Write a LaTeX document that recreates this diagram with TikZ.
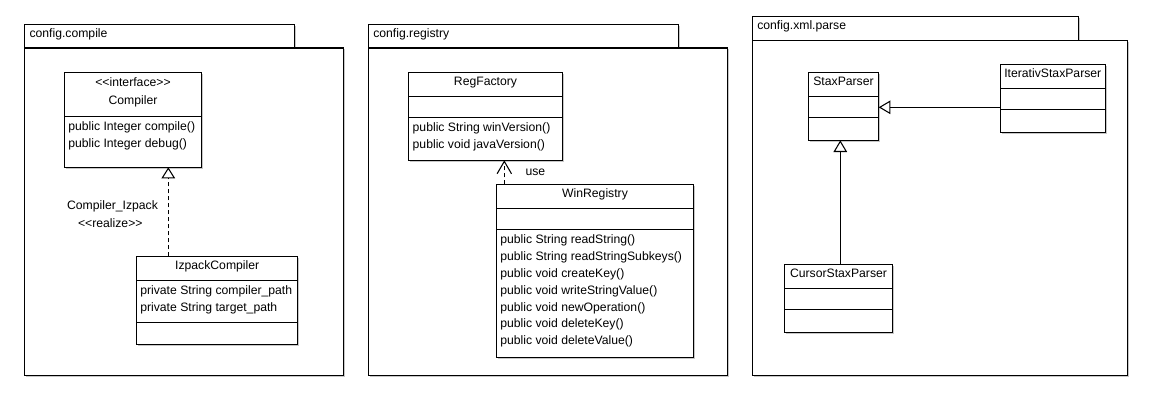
\documentclass[tikz,border=0pt]{standalone}
\usepackage{fontspec}
\setmainfont{Liberation Sans}
\usetikzlibrary{arrows.meta,fit,shadows}
\newcommand\fs{\fontsize{9.15}{11}\selectfont}
\newcommand\ltlt{<\kern0pt<}
\newcommand\gtgt{>\kern0pt>}
\tikzset{
  box/.style={draw, line width=0.8pt, fill=white, inner sep=0pt, outer sep=0pt,
    drop shadow={shadow xshift=1.1pt, shadow yshift=-1.1pt, fill=black!22, opacity=1}},
  txt/.style={inner sep=0pt, outer sep=0pt, font=\fs},
  lbl/.style={txt, anchor=base west},
  ttl/.style={txt, anchor=base},
  conn/.style={line width=0.8pt},
  realize/.style={conn, dash pattern=on 3pt off 2.25pt, -{Triangle[open, length=8.3pt, width=10.2pt, line width=0.8pt]}},
  depend/.style={conn, dash pattern=on 3pt off 2.25pt, -{Straight Barb[length=9.3pt, width=10.8pt, line width=0.8pt]}},
  general/.style={conn, -{Triangle[open, length=8.8pt, width=10.2pt, line width=0.8pt]}},
}
\newcommand\umlclass[7]{%
  \node[box, fit={(#2,#3)(#4,#5)}] (#1) {};
  \draw[line width=0.8pt] (#2,#6) -- (#4,#6);
  \draw[line width=0.8pt] (#2,#7) -- (#4,#7);
}
\begin{document}
\begin{tikzpicture}[x=0.75pt, y=-0.75pt]
\useasboundingbox (0,0) rectangle (1152,408);

% ---------- package config.compile ----------
\node[box, fit={(24.3,24.3)(294.3,48)}] (tab1) {};
\node[box, fit={(24.3,48)(343.3,375.3)}] (pkg1) {};
\node[lbl] (pkg1name) at (29.5,37.8) {config.compile};

\node[box, fit={(64.3,72.3)(201.7,167.3)}] (compiler) {};
\draw[line width=0.8pt] (64.3,116.7) -- (201.7,116.7);
\node[ttl] (compst) at (133,86.5) {\ltlt interface\gtgt};
\node[ttl] (compname) at (133,104.8) {Compiler};
\node[lbl] (compm1) at (68.3,130.8) {public Integer compile()};
\node[lbl] (compm2) at (68.3,147.6) {public Integer debug()};

\umlclass{izpack}{136.7}{256.3}{297.7}{344.3}{280.3}{322.3}
\node[ttl] (izname) at (217.2,269.3) {IzpackCompiler};
\node[lbl] (iza1) at (140.3,294.5) {private String compiler\_path};
\node[lbl] (iza2) at (140.3,311.3) {private String target\_path};

\coordinate (realx) at (168.3,0);
\draw[realize] (izpack.north -| realx) -- (compiler.south -| realx);
\node[ttl] (reallbl) at (112.5,209.3) {Compiler\_Izpack};
\node[ttl] (realst) at (110.3,227.4) {\ltlt realize\gtgt};

% ---------- package config.registry ----------
\node[box, fit={(368.3,24.3)(678.3,48)}] (tab2) {};
\node[box, fit={(368.3,48)(727.7,375.3)}] (pkg2) {};
\node[lbl] (pkg2name) at (373.3,37.8) {config.registry};

\umlclass{regfac}{408.7}{72.3}{562.3}{160.3}{96.3}{117.3}
\node[ttl] (regname) at (485.5,85.2) {RegFactory};
\node[lbl] (regm1) at (412.7,131.2) {public String winVersion()};
\node[lbl] (regm2) at (412.7,148.1) {public void javaVersion()};

\umlclass{winreg}{496.7}{184.3}{693.3}{357.3}{208.7}{229.7}
\node[ttl] (winname) at (595,197.3) {WinRegistry};
\node[lbl] (winm1) at (500.3,243.4) {public String readString()};
\node[lbl] (winm2) at (500.3,260.3) {public String readStringSubkeys()};
\node[lbl] (winm3) at (500.3,277.2) {public void createKey()};
\node[lbl] (winm4) at (500.3,294.1) {public void writeStringValue()};
\node[lbl] (winm5) at (500.3,311.0) {public void newOperation()};
\node[lbl] (winm6) at (500.3,327.8) {public void deleteKey()};
\node[lbl] (winm7) at (500.3,344.7) {public void deleteValue()};

\coordinate (depx) at (504.3,0);
\draw[depend] (winreg.north -| depx) -- (regfac.south -| depx);
\node[lbl] (uselbl) at (525.5,175.6) {use};

% ---------- package config.xml.parse ----------
\node[box, fit={(752.3,16.3)(1078.7,40.3)}] (tab3) {};
\node[box, fit={(752.3,40.3)(1127.3,375.7)}] (pkg3) {};
\node[lbl] (pkg3name) at (757.3,29.8) {config.xml.parse};

\umlclass{stax}{808.3}{72.3}{878.7}{140.3}{96.7}{117.3}
\node[ttl] (staxname) at (843.5,85.3) {StaxParser};

\umlclass{iter}{1000.3}{64.3}{1105.3}{132.3}{88.7}{109.3}
\node[ttl] (itername) at (1052.8,77.3) {IterativStaxParser};

\umlclass{cursor}{784.3}{264.3}{892.7}{332.3}{288.7}{309.7}
\node[ttl] (cursorname) at (838.5,277.3) {CursorStaxParser};

\coordinate (geny) at (0,107.3);
\draw[general] (iter.west |- geny) -- (stax.east |- geny);
\coordinate (genx) at (840.3,0);
\draw[general] (cursor.north -| genx) -- (stax.south -| genx);
\end{tikzpicture}
\end{document}
